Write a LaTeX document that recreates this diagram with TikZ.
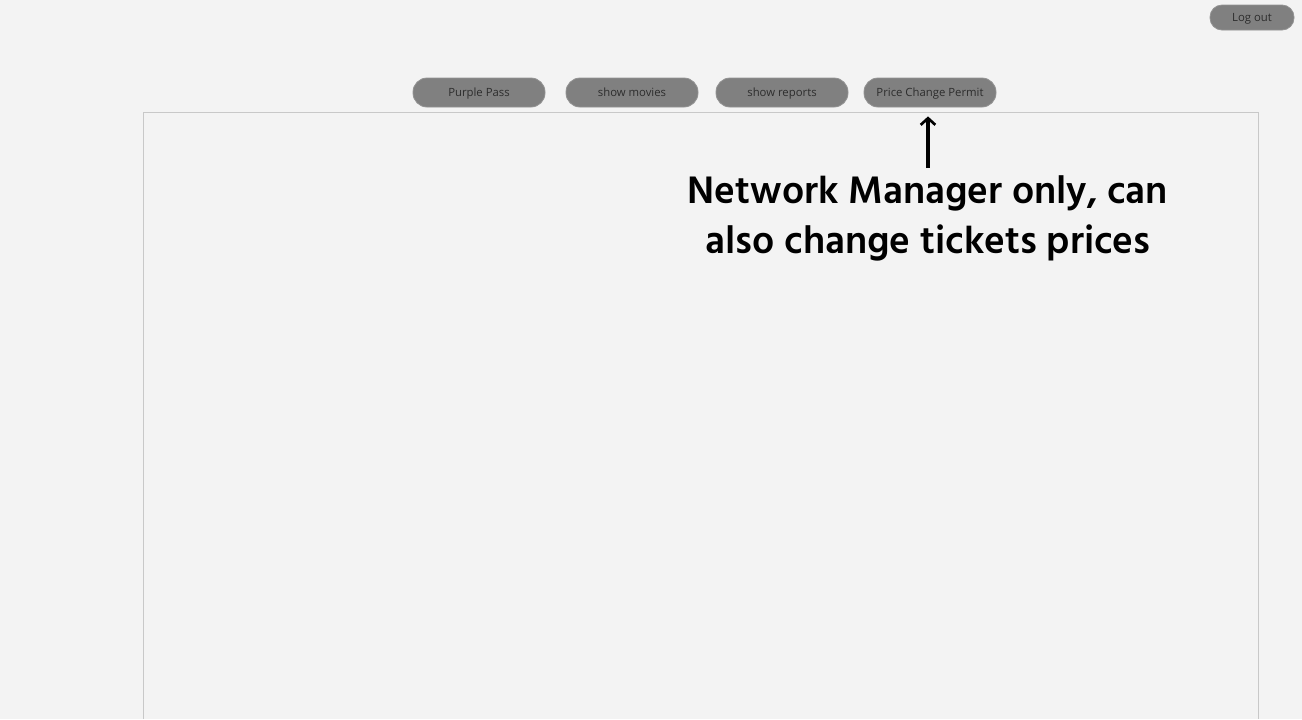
\documentclass[tikz,border=0pt]{standalone}
\usepackage{fontspec}
\setmainfont{Open Sans}
\newfontfamily\notefont{Hind Madurai}
\usetikzlibrary{arrows.meta}

\definecolor{pagebg}{RGB}{243,243,243}
\definecolor{btnfill}{RGB}{128,128,128}
\definecolor{btntext}{RGB}{45,45,45}
\definecolor{framegray}{RGB}{200,200,200}

\tikzset{every picture/.style={line width=0.75pt}}
\tikzset{
  menubtn/.style={rounded corners=10.5pt, fill=btnfill, draw=btnfill!85!white, line width=0.6pt,
    minimum width=99pt, minimum height=21.75pt, inner sep=0pt, text=btntext,
    text height=8pt, text depth=1.5pt, font=\fontsize{8.5}{10}\selectfont},
  logoutbtn/.style={menubtn, minimum width=63pt, minimum height=18.75pt, rounded corners=9pt},
  pointer/.style={line width=2.4pt, shorten >=6.75pt, -{Straight Barb[length=5pt,width=11pt,line width=2pt]}}
}

\begin{document}
\begin{tikzpicture}[x=0.75pt,y=0.75pt,yscale=-1,xscale=1]
%set diagram left start at 0, and has height of 719
\fill [pagebg] (0,0) rectangle (1302,719);
\useasboundingbox (0,0) rectangle (1302,719);

%Frame of the content area
\draw [framegray, line width=0.9pt] (143.5,719) -- (143.5,112.5) -- (1258.5,112.5) -- (1258.5,719) ;

% Buttons
\node [logoutbtn] (logout) at (1252,17.5) {Log out};
\node [menubtn] (purple) at (479,92.5) {Purple Pass};
\node [menubtn] (movies) at (632,92.5) {show movies};
\node [menubtn] (reports) at (782,92.5) {show reports};
\node [menubtn] (permit) at (930,92.5) {Price Change Permit};

% Note
\node [align=center, font=\notefont\fontsize{29.5}{37.5}\selectfont\bfseries] (note) at (928,218) {Network Manager only, can\\also change tickets prices};

%Arrow to the permit button
\coordinate (tail) at (928,168);
\draw [pointer] (tail) -- (tail |- permit.south) ;

\end{tikzpicture}
\end{document}
